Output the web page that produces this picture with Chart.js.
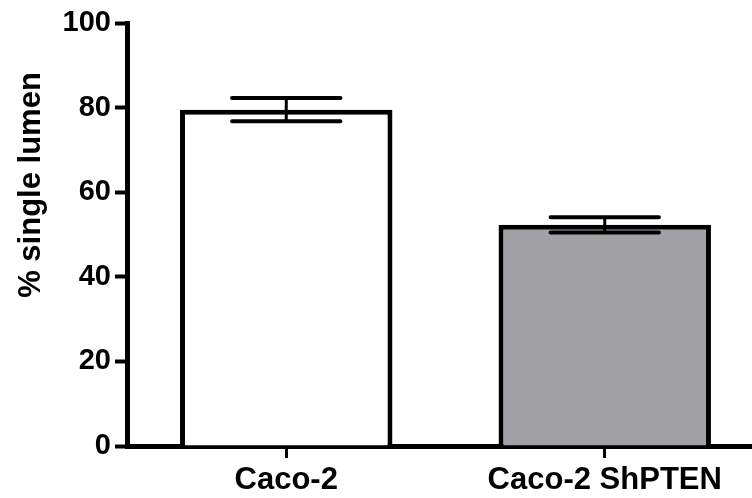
<!DOCTYPE html>
<html>
<head>
<meta charset="utf-8">
<script src="https://cdn.jsdelivr.net/npm/chart.js@4/dist/chart.umd.min.js"></script>
<style>
  html, body { margin: 0; padding: 0; background: #fff; overflow: hidden; }
  #wrap { width: 764px; height: 498px; position: relative; }
</style>
</head>
<body>
<div id="wrap"><canvas id="lumenChart"></canvas></div>
<script>
// Lumen data (mean +/- SEM)
const groups = ['Caco-2', 'Caco-2 ShPTEN'];
const meanLumen = [79.5, 52.3];
const semLumen = [2.75, 1.8];
const yTicks = [0, 20, 40, 60, 80, 100];
const barFill = ['#ffffff', '#a2a1a6'];

const FONT = "'Liberation Sans', Arial, Helvetica, sans-serif";

// error bars with wide caps, drawn on top of the bars
const errorBars = {
    id: 'errorBars',
    afterDatasetsDraw(chart) {
        const ctx = chart.ctx;
        const yScale = chart.scales.y;
        const meta = chart.getDatasetMeta(0);
        ctx.save();
        ctx.strokeStyle = '#000';
        ctx.lineCap = 'round';
        meta.data.forEach((bar, i) => {
            const hi = yScale.getPixelForValue(meanLumen[i] + semLumen[i]);
            const lo = yScale.getPixelForValue(meanLumen[i] - semLumen[i]);
            const half = bar.width * 0.255;
            ctx.lineWidth = 3;
            ctx.beginPath();
            ctx.moveTo(bar.x, hi);
            ctx.lineTo(bar.x, lo);
            ctx.stroke();
            ctx.lineWidth = 4;
            ctx.beginPath();
            ctx.moveTo(bar.x - half, hi);
            ctx.lineTo(bar.x + half, hi);
            ctx.moveTo(bar.x - half, lo);
            ctx.lineTo(bar.x + half, lo);
            ctx.stroke();
        });
        ctx.restore();
    }
};

// rotated y axis title
const yTitle = {
    id: 'yTitle',
    afterDraw(chart) {
        const ctx = chart.ctx;
        ctx.save();
        ctx.translate(31, 185);
        ctx.rotate(-Math.PI / 2);
        ctx.font = 'bold 31px ' + FONT;
        ctx.fillStyle = '#000';
        ctx.textAlign = 'center';
        ctx.textBaseline = 'middle';
        ctx.fillText('% single lumen', 0, 0);
        ctx.restore();
    }
};

new Chart(document.getElementById('lumenChart'), {
    type: 'bar',
    data: {
        labels: groups,
        datasets: [{
            data: meanLumen,
            backgroundColor: barFill,
            borderColor: '#000',
            borderWidth: 5,
            borderSkipped: 'start',
            categoryPercentage: 1,
            barPercentage: 0.667
        }]
    },
    options: {
        responsive: true,
        maintainAspectRatio: false,
        animation: false,
        layout: { padding: { top: 23, right: 0, left: 0, bottom: 0 } },
        plugins: {
            legend: { display: false },
            tooltip: { enabled: false }
        },
        scales: {
            x: {
                border: { color: '#000', width: 5 },
                grid: { display: true, offset: false, drawOnChartArea: false, drawTicks: true, tickLength: 12, tickWidth: 3, tickColor: '#000' },
                ticks: { color: '#000', font: { family: FONT, size: 31, weight: 'bold' }, padding: 4, maxRotation: 0 },
                afterFit(scale) { scale.height = 52; }
            },
            y: {
                min: 0,
                max: 100,
                border: { color: '#000', width: 5 },
                grid: { display: true, drawOnChartArea: false, drawTicks: true, tickLength: 12, tickWidth: 4, tickColor: '#000' },
                afterBuildTicks(scale) { scale.ticks = yTicks.map(v => ({ value: v })); },
                ticks: { color: '#000', font: { family: FONT, size: 29, weight: 'bold' }, padding: 4 },
                afterFit(scale) { scale.width = 127; }
            }
        }
    },
    plugins: [errorBars, yTitle]
});
</script>
</body>
</html>
